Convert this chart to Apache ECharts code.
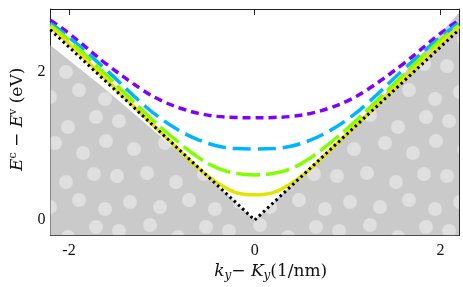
<!DOCTYPE html>
<html>
<head>
<meta charset="utf-8">
<script src="https://cdn.jsdelivr.net/npm/echarts@6/dist/echarts.min.js"></script>
<style>html,body{margin:0;padding:0;background:#fff}#c{width:463px;height:287px}</style>
</head>
<body>
<div id="c"></div>
<script>
// ---- data ----
const k = [-2.2, -2.0, -1.6, -1.2, -1.0, -0.8, -0.6, -0.4, -0.2, 0, 0.2, 0.4, 0.6, 0.8, 1.0, 1.2, 1.6, 2.0, 2.2];
const purpleE = [2.70, 2.52, 2.11, 1.75, 1.61, 1.51, 1.44, 1.40, 1.385, 1.38, 1.385, 1.40, 1.44, 1.51, 1.61, 1.75, 2.11, 2.52, 2.70];
const blueE   = [2.66, 2.47, 2.03, 1.56, 1.36, 1.20, 1.08, 1.00, 0.965, 0.96, 0.965, 1.00, 1.08, 1.20, 1.36, 1.56, 2.03, 2.47, 2.66];
const greenE  = [2.63, 2.43, 1.96, 1.47, 1.24, 1.03, 0.84, 0.70, 0.63, 0.61, 0.63, 0.70, 0.84, 1.03, 1.24, 1.47, 1.96, 2.43, 2.63];
const yellowE = [2.61, 2.38, 1.90, 1.41, 1.17, 0.93, 0.69, 0.50, 0.37, 0.34, 0.37, 0.50, 0.69, 0.93, 1.17, 1.41, 1.90, 2.38, 2.61];
const diracK = [-2.2, 0, 2.2];
const diracE = [2.57, 0, 2.57];
const shadeK = [-2.2, -1.65, -0.58, 0, 0.8, 1.56, 2.2];
const shadeE = [2.36, 1.81, 0.67, 0, 0.94, 1.91, 2.80];
const xTicks = [-2, 0, 2];
const yTicks = [0, 2];

// ---- dotted texture ----
function makePattern() {
  const s = 110;
  const cv = document.createElement('canvas');
  cv.width = s; cv.height = s;
  const ctx = cv.getContext('2d');
  ctx.fillStyle = '#cacaca';
  ctx.fillRect(0, 0, s, s);
  ctx.fillStyle = '#dfdfdf';
  const pts = [[9,11],[40,5],[68,17],[96,7],[24,39],[55,33],[83,43],[106,31],
               [7,66],[37,63],[66,72],[94,64],[20,92],[50,97],[79,90],[105,99]];
  pts.forEach(p => {
    for (let dx = -s; dx <= s; dx += s) for (let dy = -s; dy <= s; dy += s) {
      ctx.beginPath(); ctx.arc(p[0] + dx, p[1] + dy, 7, 0, Math.PI * 2); ctx.fill();
    }
  });
  return cv;
}

const zip = (a, b) => a.map((v, i) => [v, b[i]]);
const serif = 'Liberation Serif';
const nameFont = 'DejaVu Serif';

const chart = echarts.init(document.getElementById('c'), null, {renderer: 'canvas'});
const axisLine = {show: true, onZero: false, lineStyle: {color: '#222', width: 1}};
const tick = vals => ({show: true, inside: true, length: 6, customValues: vals, lineStyle: {color: '#222'}});
chart.setOption({
  animation: false,
  grid: {left: 48, right: 4, top: 9, bottom: 48},
  xAxis: [{
    type: 'value', min: -2.2, max: 2.2, position: 'bottom',
    axisLine: axisLine, splitLine: {show: false}, axisTick: tick(xTicks),
    axisLabel: {customValues: xTicks, fontFamily: serif, fontSize: 16, color: '#111', margin: 7},
    name: '{i|k}{sub|y}{n|− }{i|K}{sub|y}{n|(1/nm)}',
    nameLocation: 'middle', nameGap: 22,
    nameTextStyle: {
      padding: [0, 0, 0, 32],
      rich: {
        i: {fontFamily: nameFont, fontStyle: 'italic', fontSize: 17, color: '#111'},
        sub: {fontFamily: nameFont, fontStyle: 'italic', fontSize: 12, color: '#111', padding: [8, 0, 0, 0]},
        n: {fontFamily: nameFont, fontSize: 17, color: '#111'}
      }
    }
  }, {
    type: 'value', min: -2.2, max: 2.2, position: 'top',
    axisLine: axisLine, splitLine: {show: false}, axisTick: tick(xTicks),
    axisLabel: {show: false}
  }],
  yAxis: [{
    type: 'value', min: -0.21, max: 2.85, position: 'left',
    axisLine: axisLine, splitLine: {show: false}, axisTick: tick(yTicks),
    axisLabel: {customValues: yTicks, fontFamily: serif, fontSize: 16, color: '#111', margin: 5},
    name: '{i|E}{sup|c}{n| − }{i|E}{sup|v}{n| (eV)}',
    nameLocation: 'middle', nameGap: 20, nameRotate: 90,
    nameTextStyle: {
      padding: [0, 0, 0, 6],
      rich: {
        i: {fontFamily: nameFont, fontStyle: 'italic', fontSize: 17, color: '#111'},
        sup: {fontFamily: nameFont, fontSize: 11, color: '#111', padding: [0, 0, 9, 0]},
        n: {fontFamily: nameFont, fontSize: 17, color: '#111'}
      }
    }
  }, {
    type: 'value', min: -0.21, max: 2.85, position: 'right',
    axisLine: axisLine, splitLine: {show: false}, axisTick: tick(yTicks),
    axisLabel: {show: false}
  }],
  series: [
    {type: 'line', data: zip(shadeK, shadeE), symbol: 'none', z: 1,
     lineStyle: {width: 0}, itemStyle: {color: '#cacaca'},
     areaStyle: {origin: 'start', opacity: 1, color: {image: makePattern(), repeat: 'repeat'}}},
    {type: 'line', data: zip(k, purpleE), symbol: 'none', smooth: 0.4, z: 3,
     lineStyle: {color: '#8000ff', width: 3.5, type: [8, 5]}},
    {type: 'line', data: zip(k, blueE), symbol: 'none', smooth: 0.4, z: 4,
     lineStyle: {color: '#00b4ff', width: 3.5, type: [18, 7]}},
    {type: 'line', data: zip(k, greenE), symbol: 'none', smooth: 0.4, z: 5,
     lineStyle: {color: '#80ff00', width: 3.5, type: [24, 6]}},
    {type: 'line', data: zip(k, yellowE), symbol: 'none', smooth: 0.4, z: 6,
     lineStyle: {color: '#e4e400', width: 3.5}},
    {type: 'line', data: zip(diracK, diracE), symbol: 'none', z: 7,
     lineStyle: {color: '#000', width: 3, type: [2.5, 3.2]}}
  ]
});
</script>
</body>
</html>
